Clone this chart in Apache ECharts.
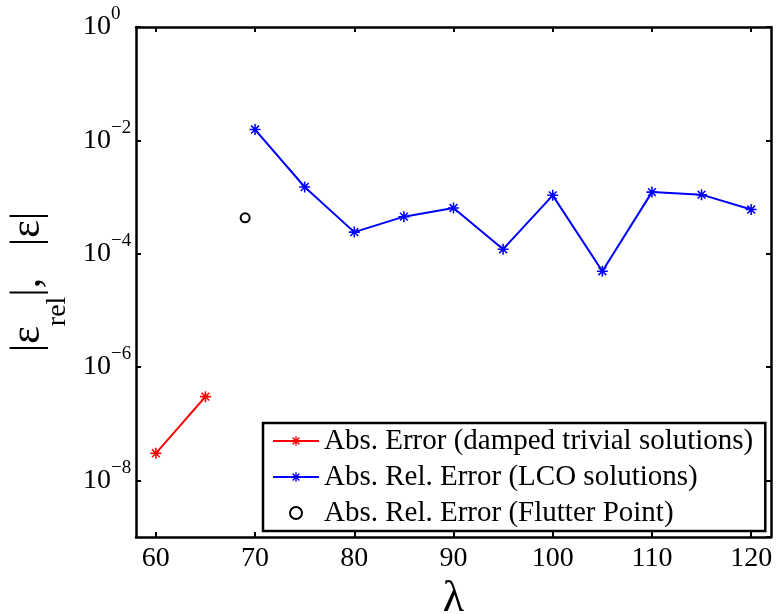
<!DOCTYPE html>
<html>
<head>
<meta charset="utf-8">
<script src="https://cdn.jsdelivr.net/npm/echarts@6/dist/echarts.min.js"></script>
<style>
  html, body { margin: 0; padding: 0; background: #fff; }
  #chart { width: 778px; height: 614px; }
</style>
</head>
<body>
<div id="chart"></div>
<script>
// values
const dampedLambda = [60, 65];
const dampedError = [3.0e-8, 3.0e-7];

const lcoLambda = [70, 75, 80, 85, 90, 95, 100, 105, 110, 115, 120];
const lcoError = [1.55e-2, 1.5e-3, 2.4e-4, 4.5e-4, 6.4e-4, 1.2e-4, 1.07e-3, 4.9e-5, 1.22e-3, 1.1e-3, 6.0e-4];

const flutterLambda = [69];
const flutterError = [4.3e-4];

const xTicks = [60, 70, 80, 90, 100, 110, 120];
const seriesNames = [
    'Abs. Error (damped trivial solutions)',
    'Abs. Rel. Error (LCO solutions)',
    'Abs. Rel. Error (Flutter Point)'
];

const FONT = 'Liberation Serif';
// MATLAB style '*' marker
const asterisk = 'path://M8.6 0L11.4 0L11.4 20L8.6 20Z M0 8.6L20 8.6L20 11.4L0 11.4Z M1.9 3.9L3.9 1.9L18.1 16.1L16.1 18.1Z M16.1 1.9L18.1 3.9L3.9 18.1L1.9 16.1Z';

const pairs = (xs, ys) => xs.map((x, i) => [x, ys[i]]);

function powLabel(v) {
    const e = Math.round(Math.log10(v));
    const exp = e < 0 ? '\u2212' + (-e) : String(e);
    return '{b|10}{e|' + exp + '}';
}

const chart = echarts.init(document.getElementById('chart'));

const baseX = {
    type: 'value',
    min: 58,
    max: 122,
    splitLine: { show: false },
    axisLine: { lineStyle: { color: '#000', width: 2.5 } },
    axisTick: { inside: true, length: 5, lineStyle: { color: '#000', width: 2 }, customValues: xTicks }
};

const baseY = {
    type: 'log',
    logBase: 100, // one tick every two decades
    min: 1e-9,
    max: 1,
    splitLine: { show: false },
    minorTick: { show: false },
    axisLine: { lineStyle: { color: '#000', width: 2.5 } },
    axisTick: { inside: true, length: 5, lineStyle: { color: '#000', width: 2 } }
};

const option = {
    animation: false,
    backgroundColor: '#fff',
    grid: { left: 136, right: 7, top: 27, bottom: 77, containLabel: false, outerBoundsMode: 'none' },
    xAxis: [
        Object.assign({}, baseX, {
            position: 'bottom',
            name: '\u03bb',
            nameLocation: 'middle',
            nameGap: 38,
            nameTextStyle: { fontFamily: FONT, fontSize: 44, color: '#000' },
            axisLabel: {
                customValues: xTicks,
                margin: 8,
                fontFamily: FONT,
                fontSize: 28,
                color: '#000'
            }
        }),
        Object.assign({}, baseX, { position: 'top', axisLabel: { show: false } })
    ],
    yAxis: [
        Object.assign({}, baseY, {
            position: 'left',
            name: '{big||\u03b5}{sub|rel}{big||,   |\u03b5|}',
            nameLocation: 'middle',
            nameRotate: 90,
            nameGap: 78,
            nameTextStyle: {
                color: '#000',
                rich: {
                    big: { fontFamily: FONT, fontSize: 42, lineHeight: 46, verticalAlign: 'top', color: '#000' },
                    sub: { fontFamily: FONT, fontSize: 28, lineHeight: 24, padding: [37, 0, 0, 0], verticalAlign: 'top', color: '#000' }
                }
            },
            axisLabel: {
                showMinLabel: false,
                align: 'left',
                margin: 53,
                formatter: powLabel,
                rich: {
                    b: { fontFamily: FONT, fontSize: 28, lineHeight: 44, verticalAlign: 'middle', color: '#000' },
                    e: { fontFamily: FONT, fontSize: 19, lineHeight: 20, verticalAlign: 'top', color: '#000' }
                }
            }
        }),
        Object.assign({}, baseY, { position: 'right', axisLabel: { show: false } })
    ],
    legend: {
        orient: 'vertical',
        left: 263,
        top: 423,
        padding: [2, 12, 2, 9],
        itemGap: 4,
        itemWidth: 46,
        itemHeight: 12,
        borderColor: '#000',
        borderWidth: 2.5,
        backgroundColor: '#fff',
        data: seriesNames,
        textStyle: { fontFamily: FONT, fontSize: 29, lineHeight: 32, color: '#000' }
    },
    series: [
        {
            name: seriesNames[0],
            type: 'line',
            data: pairs(dampedLambda, dampedError),
            symbol: asterisk,
            symbolSize: 11,
            lineStyle: { color: '#ff0000', width: 2 },
            itemStyle: { color: '#ff0000' }
        },
        {
            name: seriesNames[1],
            type: 'line',
            data: pairs(lcoLambda, lcoError),
            symbol: asterisk,
            symbolSize: 11,
            lineStyle: { color: '#0000ff', width: 2 },
            itemStyle: { color: '#0000ff' }
        },
        {
            name: seriesNames[2],
            type: 'scatter',
            data: pairs(flutterLambda, flutterError),
            symbol: 'emptyCircle',
            symbolSize: 9,
            itemStyle: { color: '#000', borderColor: '#000', borderWidth: 2, opacity: 1 }
        }
    ]
};

chart.setOption(option);
</script>
</body>
</html>
